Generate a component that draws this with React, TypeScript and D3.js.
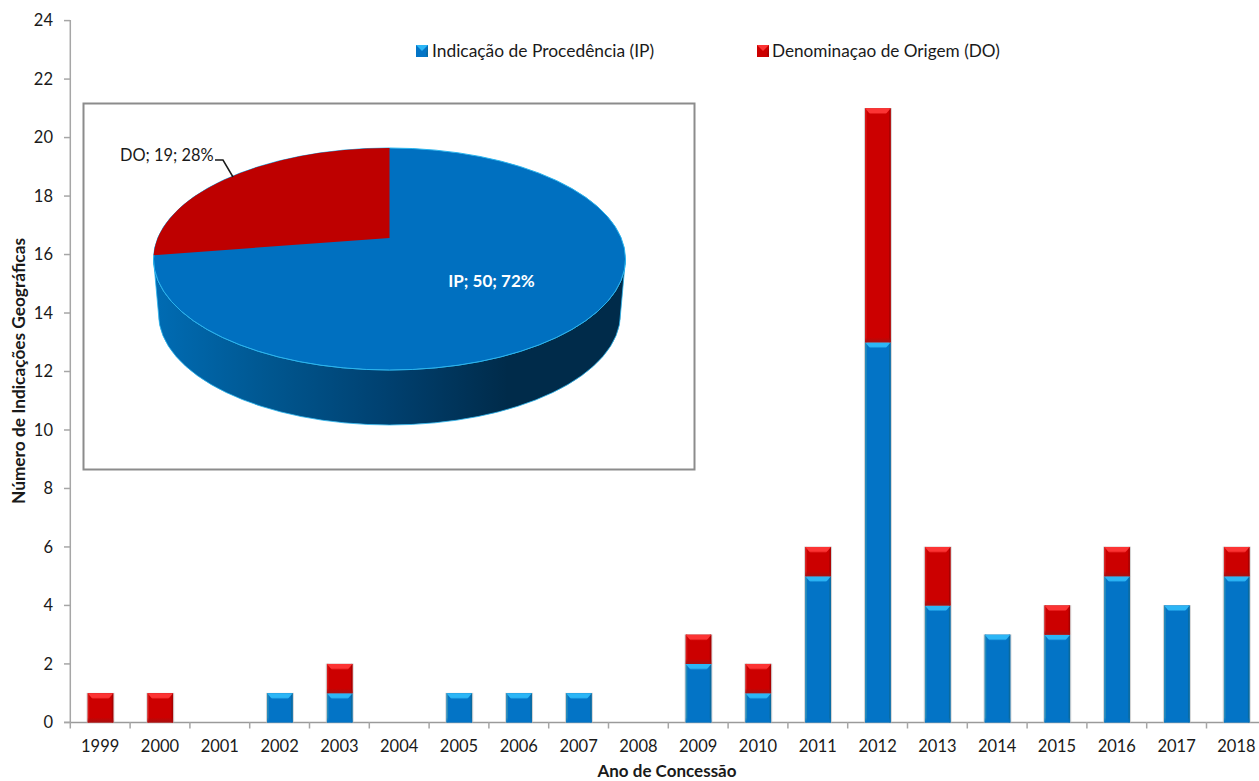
import React from "react";
import * as d3 from "d3";

const years = ["1999","2000","2001","2002","2003","2004","2005","2006","2007","2008","2009","2010","2011","2012","2013","2014","2015","2016","2017","2018"];
const ipValues = [0,0,0,1,1,0,1,1,1,0,2,1,5,13,4,3,3,5,4,5];
const doValues = [1,1,0,0,1,0,0,0,0,0,1,1,1,8,2,0,1,1,0,1];
const yTicks = d3.range(0, 25, 2);
const pieLabels = ["IP", "DO"];
const pieValues = [50, 19];
const piePercents = ["72%", "28%"];
const legendLabels = ["Indicação de Procedência (IP)", "Denominaçao de Origem (DO)"];

const W = 1259, H = 781;
const FONT = "Lato, Carlito, sans-serif";
const TEXT = "#1a1a1a";
const AXIS = "#a6a6a6";
const pal = {
  ip: { id: "ip", body: "#0374C6", top: "#2CB6F6", sideL: "#2A8DB8", sideR: "#0A6A9E", bottom: "#0374C6" },
  do: { id: "do", body: "#CC0000", top: "#FC3434", sideL: "#D81818", sideR: "#A80000", bottom: "#A81010" },
};

function Bar({ x, y0, y1, w, c }: any) {
  const h = y0 - y1;
  if (h <= 0) return null;
  const b = 6, s = 5, e = 1.5;
  return (
    <g>
      <rect x={x - 1.2} y={y1 - 0.3} width={w + 2.4} height={h + 0.3} fill="#c4c4c4" opacity={0.75} />
      <rect x={x} y={y1} width={w} height={h} fill={c.body} />
      <rect x={x} y={y1} width={e} height={h} fill={c.sideL} />
      <rect x={x + w - e} y={y1} width={e} height={h} fill={c.sideR} />
      <rect x={x} y={y0 - 5} width={w} height={5} fill={`url(#fade-${c.id})`} />
      <path d={`M${x},${y1}L${x + w},${y1}L${x + w - s},${y1 + b}L${x + s},${y1 + b}Z`} fill={`url(#top-${c.id})`} />
    </g>
  );
}

function Swatch({ x, y, c }: any) {
  const s = 12;
  return (
    <g>
      <rect x={x} y={y} width={s} height={s} fill={c.body} />
      <path d={`M${x},${y}L${x + s},${y}L${x + s / 2},${y + s / 2}Z`} fill={c.top} />
      <path d={`M${x + s},${y}L${x + s},${y + s}L${x + s - 2},${y + s - 2}Z`} fill={c.sideR} />
    </g>
  );
}

export default function App() {
  const x = d3.scaleBand<string>().domain(years).range([70.3, 1266.3]);
  const y = d3.scaleLinear().domain([0, 24]).range([722.4, 20.6]);
  const barW = 25.5;

  // pie geometry
  const cx = 389.5, cy = 259, rx = 236, ry = 111, depth = 55, apexY = 238;
  const arcs = d3.pie<number>().sort(null)(pieValues);
  const doArc = arcs[1];
  // The foreshortened view compresses the rim angle of the DO slice.
  const rimAngle = (doArc.endAngle - doArc.startAngle) * 0.888;
  const leftX = cx - rx * Math.sin(rimAngle);
  const leftY = cy - ry * Math.cos(rimAngle);
  const topEllipse = `M${cx - rx},${cy}A${rx},${ry} 0 1 1 ${cx + rx},${cy}A${rx},${ry} 0 1 1 ${cx - rx},${cy}Z`;
  const wall = `M${cx - rx},${cy}L${cx - rx + 5},${cy + depth}A${rx - 5},${ry} 0 0 0 ${cx + rx - 5},${cy + depth}L${cx + rx},${cy}A${rx},${ry} 0 0 1 ${cx - rx},${cy}Z`;
  const doSlice = `M${cx},${apexY}L${cx},${cy - ry}A${rx},${ry} 0 0 0 ${leftX},${leftY}Z`;

  return (
    <svg width={W} height={H} style={{ position: "absolute", left: 0, top: 0, background: "#fff" }} fontFamily={FONT}>
      <defs>
        <linearGradient id="wallGrad" gradientUnits="userSpaceOnUse" x1={cx - rx} x2={cx + rx} y1={0} y2={0}>
          <stop offset="0" stopColor="#006CB4" />
          <stop offset="0.25" stopColor="#00568F" />
          <stop offset="0.5" stopColor="#00406F" />
          <stop offset="0.75" stopColor="#002B4A" />
          <stop offset="1" stopColor="#002B4A" />
        </linearGradient>
        {[pal.ip, pal.do].map((c) => (
          <React.Fragment key={c.id}>
            <linearGradient id={`top-${c.id}`} x1="0" x2="0" y1="0" y2="1">
              <stop offset="0" stopColor={c.top} />
              <stop offset="0.7" stopColor={c.top} />
              <stop offset="1" stopColor={c.body} />
            </linearGradient>
            <linearGradient id={`fade-${c.id}`} x1="0" x2="0" y1="0" y2="1">
              <stop offset="0" stopColor={c.bottom} stopOpacity={0} />
              <stop offset="1" stopColor={c.bottom} />
            </linearGradient>
          </React.Fragment>
        ))}
      </defs>

      {/* axes */}
      <line x1={70.3} x2={70.3} y1={20} y2={722} stroke={AXIS} strokeWidth={1.5} />
      <line x1={64} x2={W} y1={722.4} y2={722.4} stroke="#9a9a9a" strokeWidth={1.5} />
      {yTicks.map((t) => (
        <g key={t}>
          <line x1={64} x2={70} y1={y(t)} y2={y(t)} stroke={AXIS} strokeWidth={1.5} />
          <text x={53} y={y(t)} dy="0.35em" textAnchor="end" fontSize={16.5} fill={TEXT}>{t}</text>
        </g>
      ))}
      {years.map((yr) => (
        <g key={yr}>
          <line x1={x(yr)!} x2={x(yr)!} y1={722} y2={728.5} stroke={AXIS} strokeWidth={1.5} />
          <text x={x(yr)! + x.bandwidth() / 2} y={746} dy="0.35em" textAnchor="middle" fontSize={16.5} fill={TEXT}>{yr}</text>
        </g>
      ))}

      {/* stacked bars */}
      {years.map((yr, i) => {
        const bx = x(yr)! + (x.bandwidth() - barW) / 2 + 0.3;
        return (
          <g key={yr}>
            <Bar x={bx} y0={y(0)} y1={y(ipValues[i])} w={barW} c={pal.ip} />
            <Bar x={bx} y0={y(ipValues[i])} y1={y(ipValues[i] + doValues[i])} w={barW} c={pal.do} />
          </g>
        );
      })}

      <text transform="translate(25,371) rotate(-90)" textAnchor="middle" fontSize={17.3} fontWeight={700} fill={TEXT}>Número de Indicações Geográficas</text>
      <text x={667} y={771.5} dy="0.35em" textAnchor="middle" fontSize={17} fontWeight={700} fill={TEXT}>Ano de Concessão</text>

      {/* legend */}
      <Swatch x={416} y={45} c={pal.ip} />
      <text x={432} y={51} dy="0.35em" fontSize={17.4} fill={TEXT}>{legendLabels[0]}</text>
      <Swatch x={757} y={45} c={pal.do} />
      <text x={772} y={51} dy="0.35em" fontSize={17.2} fill={TEXT}>{legendLabels[1]}</text>

      {/* inset pie */}
      <rect x={83.5} y={103.5} width={611} height={366} fill="#fff" stroke="#8c8c8c" strokeWidth={2} />
      <path d={wall} fill="url(#wallGrad)" stroke="#2BB5EE" strokeWidth={0.8} />
      <path d={topEllipse} fill="#0070C0" stroke="#2BB5EE" strokeWidth={1} />
      <path d={doSlice} fill="#BE0000" />
      <path d="M215,160H223L233,177" fill="none" stroke="#1a1a1a" strokeWidth={1.5} />
      <text x={120} y={155} dy="0.35em" fontSize={16.4} fill={TEXT}>{`${pieLabels[1]}; ${pieValues[1]}; ${piePercents[1]}`}</text>
      <text x={491.5} y={281} dy="0.35em" textAnchor="middle" fontSize={17} fontWeight={700} fill="#fff">{`${pieLabels[0]}; ${pieValues[0]}; ${piePercents[0]}`}</text>
    </svg>
  );
}
